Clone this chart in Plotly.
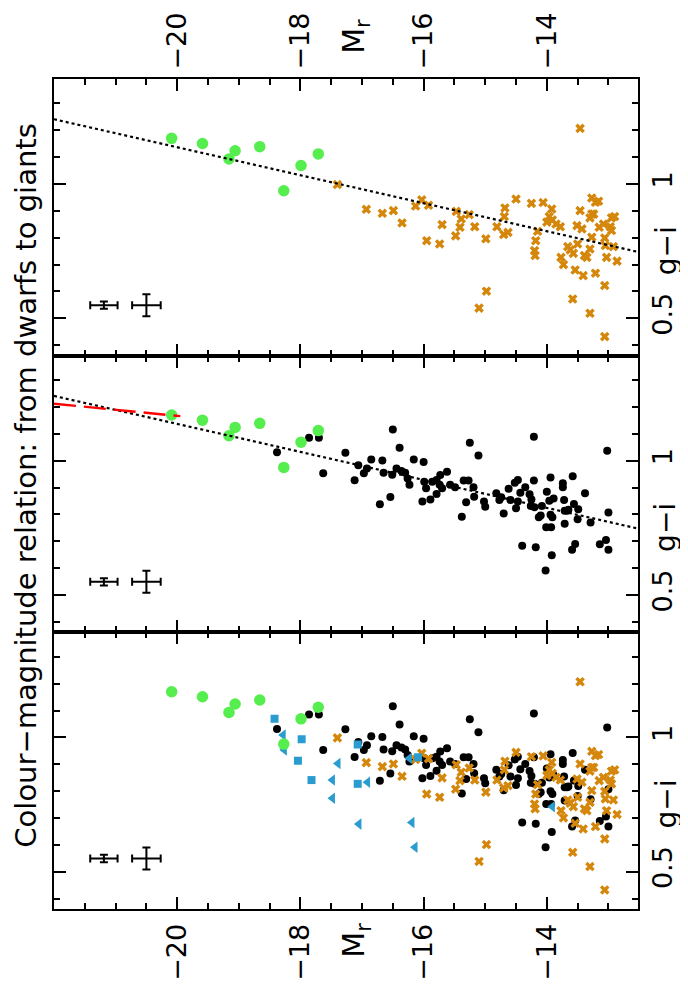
import plotly.graph_objects as go
from plotly.subplots import make_subplots

# ---------------- data ----------------
giant_mr = [-20.09, -19.59, -19.06, -19.16, -18.66, -17.71, -17.99, -18.27]
giant_gi = [1.170, 1.151, 1.124, 1.093, 1.139, 1.112, 1.069, 0.975]

dwarf_mr = [-17.86, -17.70, -18.38, -17.63, -17.27,
            -16.50, -16.39, -16.85, -16.67, -16.16, -16.00, -15.25, -15.11, -17.06, -16.92,
            -16.97, -17.12, -16.65, -16.51, -16.44, -16.36, -16.30, -16.26, -16.23, -16.71,
            -16.54, -16.02, -15.89, -15.99, -15.96, -15.86, -15.79, -15.73, -15.62, -15.74,
            -15.79, -15.70, -15.57, -15.49, -15.35, -15.27, -15.19, -15.38, -15.31, -15.18,
            -15.02, -15.00,
            -14.21, -13.02, -14.82, -14.74, -14.77, -14.70, -14.62, -14.59, -14.52, -14.47,
            -14.50, -14.47, -14.43, -14.35, -14.28, -14.25, -14.26, -14.21, -14.20, -14.08,
            -14.10, -14.13, -14.00, -13.94, -13.96, -13.94, -13.91, -14.01, -13.93, -13.89,
            -13.74, -13.74, -13.72, -13.71, -13.67, -13.71, -13.65, -13.58, -13.56, -13.49,
            -13.50, -13.38, -13.29, -13.00, -14.40, -14.18, -13.92, -14.02, -13.59, -13.54,
            -13.14, -13.04, -13.00]
dwarf_gi = [1.085, 1.085, 1.031, 0.953, 1.030,
            1.116, 1.048, 1.004, 1.001, 1.004, 0.995, 1.067, 1.019, 0.983, 0.971,
            0.953, 0.927, 0.955, 0.948, 0.971, 0.962, 0.955, 0.934, 0.910, 0.838,
            0.865, 0.848, 0.856, 0.922, 0.897, 0.922, 0.928, 0.947, 0.959, 0.910,
            0.876, 0.897, 0.910, 0.901, 0.926, 0.926, 0.901, 0.791, 0.845, 0.866,
            0.848, 0.829,
            1.089, 1.037, 0.879, 0.864, 0.854, 0.803, 0.896, 0.854, 0.918, 0.928,
            0.823, 0.848, 0.881, 0.901, 0.875, 0.856, 0.831, 0.926, 0.827, 0.831,
            0.796, 0.789, 0.884, 0.937, 0.851, 0.799, 0.789, 0.752, 0.752, 0.859,
            0.916, 0.901, 0.854, 0.814, 0.814, 0.765, 0.817, 0.942, 0.839, 0.819,
            0.782, 0.879, 0.770, 0.807, 0.683, 0.678, 0.648, 0.591, 0.668, 0.690,
            0.689, 0.705, 0.668]

cross_mr = [-17.40, -16.93, -16.67, -16.49, -16.35, -16.13, -16.03, -15.92, -15.95, -15.74,
            -15.70, -15.47, -15.39, -15.26, -15.41, -15.48, -15.17, -14.99, -14.98, -15.10,
            -13.46, -14.81, -14.68, -14.69, -14.70, -14.63, -14.50, -14.25, -14.06, -13.92,
            -13.96, -14.00, -13.91, -14.15, -14.18, -14.20, -14.19, -13.85, -13.78, -13.77,
            -13.73, -13.66, -13.62, -13.57, -13.50, -13.51, -13.43, -13.46, -13.54, -13.41,
            -13.39, -13.35, -13.30, -13.27, -13.27, -13.21, -13.27, -13.30, -13.24, -13.21,
            -13.15, -13.08, -13.06, -13.05, -13.03, -13.06, -12.97, -12.95, -12.90, -12.95,
            -12.92, -12.86, -13.58, -13.30, -13.06, -13.16]
cross_gi = [0.998, 0.906, 0.891, 0.901, 0.855, 0.918, 0.941, 0.921, 0.789, 0.777,
            0.849, 0.898, 0.870, 0.886, 0.839, 0.807, 0.841, 0.796, 0.601, 0.538,
            1.207, 0.841, 0.911, 0.879, 0.812, 0.820, 0.944, 0.928, 0.931, 0.907,
            0.879, 0.858, 0.866, 0.824, 0.789, 0.752, 0.734, 0.851, 0.841, 0.727,
            0.700, 0.767, 0.755, 0.742, 0.777, 0.845, 0.833, 0.901, 0.680, 0.659,
            0.734, 0.727, 0.758, 0.802, 0.948, 0.932, 0.888, 0.874, 0.888, 0.668,
            0.839, 0.851, 0.799, 0.771, 0.727, 0.622, 0.841, 0.874, 0.879, 0.827,
            0.767, 0.713, 0.572, 0.519, 0.432, 0.936]

square_mr = [-18.42, -17.98, -18.04, -17.82, -17.07, -17.07, -16.09]
square_gi = [1.069, 0.993, 0.913, 0.841, 0.973, 0.827, 0.926]

tri_mr = [-18.28, -18.26, -17.39, -17.48, -16.91, -17.48, -17.05, -16.19, -16.23, -16.14, -13.91]
tri_gi = [1.009, 0.953, 0.903, 0.841, 0.833, 0.773, 0.677, 0.683, 0.922, 0.591, 0.742]

ring_mr = [-17.92, -17.24, -16.84, -17.05, -16.21, -15.98, -16.16, -15.89, -16.37, -15.63, -15.82]
ring_gi = [1.200, 1.170, 1.097, 1.027, 1.191, 1.227, 1.103, 0.933, 0.901, 0.782, 0.689]

# typical error bars
err_mr = [-21.19, -20.50]
err_gi = [0.549, 0.549]
err_dmr = [0.222, 0.232]
err_dgi = [0.0136, 0.041]

# linear fits  g-i = a + b * M_r
fit_all = (0.095, -0.0521)       # dotted black, whole M_r range
fit_giant = (0.717, -0.0225)     # red dashed, bright end
fit_all_span = [-22.0, -12.52]
fit_giant_span = [-22.0, -19.95]

mr_ticks = [-20, -18, -16, -14]
gi_ticks = [0.5, 1.0]
gi_ticktext = ["0.5", "1"]
title_text = "Colour\u2212magnitude relation: from dwarfs to giants"

X_RANGE = [-22.0, -12.52]
Y_RANGE = [0.361, 1.391]

GREEN = "#55ee4e"
ORANGE = "#d4870b"
BLUE = "#2b9ccf"
MAGENTA = "#ff00ff"
FONT = "DejaVu Sans"

fig = make_subplots(rows=3, cols=1, shared_xaxes=True, vertical_spacing=0)


def fit_line(fit, span):
    a, b = fit
    return span, [a + b * m for m in span]


def add_points(row, which):
    if "dwarf" in which:
        fig.add_trace(go.Scatter(x=dwarf_mr, y=dwarf_gi, mode="markers",
                                 marker=dict(color="black", size=8, line=dict(width=0)),
                                 showlegend=False), row=row, col=1)
    if "cross" in which:
        fig.add_trace(go.Scatter(x=cross_mr, y=cross_gi, mode="markers",
                                 marker=dict(color=ORANGE, size=8.5, symbol="x", line=dict(width=0)),
                                 showlegend=False), row=row, col=1)
    if "blue" in which:
        fig.add_trace(go.Scatter(x=square_mr, y=square_gi, mode="markers",
                                 marker=dict(color=BLUE, size=8, symbol="square", line=dict(width=0)),
                                 showlegend=False), row=row, col=1)
        fig.add_trace(go.Scatter(x=tri_mr, y=tri_gi, mode="markers",
                                 marker=dict(color=BLUE, size=10, symbol="triangle-left", line=dict(width=0)),
                                 showlegend=False), row=row, col=1)
    if "giant" in which:
        fig.add_trace(go.Scatter(x=giant_mr, y=giant_gi, mode="markers",
                                 marker=dict(color=GREEN, size=11.5, line=dict(width=0)),
                                 showlegend=False), row=row, col=1)
    if "ring" in which:
        fig.add_trace(go.Scatter(x=ring_mr, y=ring_gi, mode="markers",
                                 marker=dict(color="rgba(0,0,0,0)", size=10, symbol="circle-open",
                                             line=dict(color=MAGENTA, width=2.5)),
                                 showlegend=False), row=row, col=1)
    if "fit" in which:
        lx, ly = fit_line(fit_all, fit_all_span)
        fig.add_trace(go.Scatter(x=lx, y=ly, mode="lines",
                                 line=dict(color="black", width=2.2, dash="dot"),
                                 showlegend=False), row=row, col=1)
    if "redfit" in which:
        lx, ly = fit_line(fit_giant, fit_giant_span)
        fig.add_trace(go.Scatter(x=lx, y=ly, mode="lines",
                                 line=dict(color="red", width=2.4, dash="22px,8px"),
                                 showlegend=False), row=row, col=1)
    # error crosses
    fig.add_trace(go.Scatter(x=err_mr, y=err_gi, mode="markers",
                             marker=dict(size=1, color="rgba(0,0,0,0)"),
                             error_x=dict(type="data", array=err_dmr, color="black", thickness=2, width=4),
                             error_y=dict(type="data", array=err_dgi, color="black", thickness=2, width=4),
                             showlegend=False), row=row, col=1)


add_points(1, ["cross", "giant", "fit"])
add_points(2, ["dwarf", "giant", "fit", "redfit"])
add_points(3, ["dwarf", "cross", "blue", "giant", "ring"])

xcommon = dict(range=X_RANGE, showline=True, linewidth=2, linecolor="black", mirror="ticks",
               ticks="inside", ticklen=12, tickwidth=2, tickcolor="black",
               tickmode="array", tickvals=mr_ticks, automargin=False,
               minor=dict(tickmode="linear", tick0=-22, dtick=0.5, ticks="inside",
                          ticklen=6, tickwidth=2, tickcolor="black", showgrid=False),
               showgrid=False, zeroline=False, tickangle=-90,
               tickfont=dict(family=FONT, size=27, color="black"))
ycommon = dict(range=Y_RANGE, showline=True, linewidth=2, linecolor="black", mirror="ticks",
               ticks="inside", ticklen=12, tickwidth=2, tickcolor="black",
               tickmode="array", tickvals=gi_ticks, ticktext=gi_ticktext, automargin=False,
               minor=dict(tickmode="linear", tick0=0, dtick=0.1, ticks="inside",
                          ticklen=6, tickwidth=2, tickcolor="black", showgrid=False),
               showgrid=False, zeroline=False, side="right", tickangle=-90,
               tickfont=dict(family=FONT, size=27, color="black"))

fig.update_xaxes(**xcommon)
fig.update_yaxes(**ycommon)
fig.update_xaxes(side="top", showticklabels=True, ticklabelstandoff=2, row=1, col=1)
fig.update_xaxes(showticklabels=False, row=2, col=1)
fig.update_xaxes(side="bottom", showticklabels=True, ticklabelstandoff=2, row=3, col=1)
fig.update_yaxes(ticklabelstandoff=0)

annotations = [
    dict(text=title_text, xref="paper", yref="paper", x=-0.048, y=0.51,
         showarrow=False, textangle=-90, xanchor="center", yanchor="middle",
         font=dict(family=FONT, size=29, color="black")),
    dict(text="M<sub>r</sub>", xref="paper", yref="paper", x=0.517, y=1.052,
         showarrow=False, textangle=-90, xanchor="center", yanchor="middle",
         font=dict(family=FONT, size=30, color="black")),
    dict(text="M<sub>r</sub>", xref="paper", yref="paper", x=0.517, y=-0.037,
         showarrow=False, textangle=-90, xanchor="center", yanchor="middle",
         font=dict(family=FONT, size=30, color="black")),
]
for yref in ["y", "y2", "y3"]:
    annotations.append(dict(text="g\u2212i", xref="paper", yref=yref, x=1.048, y=0.75,
                            showarrow=False, textangle=-90, xanchor="center", yanchor="middle",
                            font=dict(family=FONT, size=28, color="black")))

# the page adds an 8 px body margin, so the figure is 8 px smaller and shifted
fig.update_layout(width=680, height=976, margin=dict(l=46, r=50, t=71, b=75, autoexpand=False),
                  plot_bgcolor="white", paper_bgcolor="white", showlegend=False,
                  annotations=annotations)

fig.write_html("out.html")
